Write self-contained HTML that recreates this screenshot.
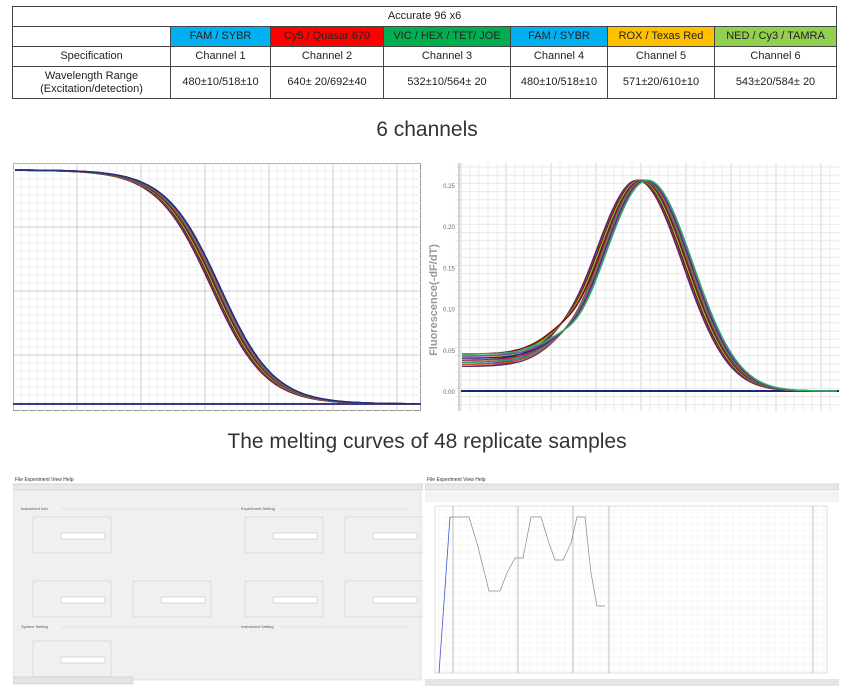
<!DOCTYPE html>
<html><head><meta charset="utf-8"><style>
body{margin:0;background:#fff;width:854px;height:693px;overflow:hidden;font-family:"Liberation Sans",sans-serif;position:relative}
table{position:absolute;left:12px;top:6px;border-collapse:collapse;font-size:11px;color:#222}
td{border:1px solid #444;text-align:center;padding:0;line-height:13px}
.cap{position:absolute;width:854px;text-align:center;font-size:21px;color:#333}
svg{position:absolute}
</style></head><body>
<table>
<colgroup><col style="width:158px"><col style="width:100px"><col style="width:113px"><col style="width:127px"><col style="width:97px"><col style="width:107px"><col style="width:122px"></colgroup>
<tr style="height:20px"><td colspan="7">Accurate 96 x6</td></tr>
<tr style="height:20px"><td></td><td style="background:#00b0f0">FAM / SYBR</td><td style="background:#ff0000">Cy5 / Quasar 670</td><td style="background:#00b050">VIC / HEX / TET/ JOE</td><td style="background:#00b0f0">FAM / SYBR</td><td style="background:#ffc000">ROX / Texas Red</td><td style="background:#92d050">NED / Cy3 / TAMRA</td></tr>
<tr style="height:20px"><td>Specification</td><td>Channel 1</td><td>Channel 2</td><td>Channel 3</td><td>Channel 4</td><td>Channel 5</td><td>Channel 6</td></tr>
<tr style="height:32px"><td>Wavelength Range<br>(Excitation/detection)</td><td>480±10/518±10</td><td>640± 20/692±40</td><td>532±10/564± 20</td><td>480±10/518±10</td><td>571±20/610±10</td><td>543±20/584± 20</td></tr>
</table>
<div class="cap" style="top:118px">6 channels</div>
<div class="cap" style="top:430px">The melting curves of 48 replicate samples</div>

<svg id="c1" style="left:13px;top:163px" width="408" height="248"></svg>
<svg id="c2" style="left:425px;top:163px" width="414" height="248"></svg>
<svg id="s1" style="left:13px;top:473px" width="410" height="213"></svg>
<svg id="s2" style="left:425px;top:473px" width="414" height="213"></svg>
<script>
const NS='http://www.w3.org/2000/svg';
function add(svg,tag,attrs,txt){const e=document.createElementNS(NS,tag);for(const k in attrs)e.setAttribute(k,attrs[k]);if(txt!==undefined)e.textContent=txt;svg.appendChild(e);return e;}
const cols=['#7a1f6e','#3b2a8a','#c0392b','#1a1a1a','#e6c700','#2e8b57','#8b0000','#5a2d82','#d35400','#16a085','#b03060','#203080','#8e44ad','#27ae60'];
// chart 1
let c1=document.getElementById('c1');
add(c1,'rect',{x:0.5,y:0.5,width:407,height:247,fill:'#fff',stroke:'#999'});
for(let x=0;x<408;x+=8)add(c1,'line',{x1:x,y1:0,x2:x,y2:248,stroke:x%64==0?'#ccc':'#eee','stroke-width':1});
for(let y=0;y<248;y+=8)add(c1,'line',{x1:0,y1:y,x2:408,y2:y,stroke:y%64==0?'#ccc':'#eee','stroke-width':1});
add(c1,'line',{x1:0,y1:241,x2:408,y2:241,stroke:'#333a90','stroke-width':2});
for(let i=0;i<12;i++){let off=(i-6)*0.8,d='';for(let x=2;x<=405;x+=2){let t=(x-203-off)/27;let y=7+234/(1+Math.exp(-t));d+=(d?'L':'M')+x+' '+Math.min(241,y).toFixed(1);}add(c1,'path',{d:d,fill:'none',stroke:cols[i],'stroke-width':1.6});}
// chart 2
let c2=document.getElementById('c2');
add(c2,'rect',{x:0,y:0,width:414,height:248,fill:'#fff'});
for(let x=36;x<414;x+=9)add(c2,'line',{x1:x,y1:0,x2:x,y2:248,stroke:(x-36)%45==0?'#d4d4d4':'#eee'});
for(let y=4;y<248;y+=8.2)add(c2,'line',{x1:30,y1:y,x2:414,y2:y,stroke:'#e8e8e8'});
add(c2,'line',{x1:34,y1:0,x2:34,y2:248,stroke:'#aaa'});
const lab=['0.25','0.20','0.15','0.10','0.05','0.00'];
lab.forEach((l,i)=>{add(c2,'text',{x:24,y:25+i*41.2,'font-size':6,fill:'#666','text-anchor':'middle'},l)});
add(c2,'text',{x:0,y:0,transform:'translate(12,137) rotate(-90)','font-size':11,'font-weight':'bold',fill:'#999','text-anchor':'middle'},'Fluorescence(-dF/dT)');
add(c2,'line',{x1:36,y1:228,x2:414,y2:228,stroke:'#1a237e','stroke-width':2});
for(let i=0;i<14;i++){let off=(i-7)*0.8,b=0.03+0.0025*(i%7),d='';for(let x=37;x<=413;x+=3){let g=0.257*Math.exp(-Math.pow(x-218-off,2)/(2*45*45));let base=b/(1+Math.exp((x-145)/10));let v=g+base;let y=228-v*820;d+=(d?'L':'M')+x+' '+y.toFixed(1);}add(c2,'path',{d:d,fill:'none',stroke:cols[i],'stroke-width':1.4});}
// screenshot 1
let s1=document.getElementById('s1');
add(s1,'rect',{x:0,y:0,width:410,height:213,fill:'#fff'});
add(s1,'text',{x:2,y:8,'font-size':5,fill:'#333'},'File Experiment View Help');
add(s1,'rect',{x:0,y:11,width:410,height:6,fill:'#e8e8e8',stroke:'#bbb','stroke-width':0.5});
add(s1,'rect',{x:0,y:17,width:408,height:190,fill:'#f0f0f0',stroke:'#ccc','stroke-width':0.5});
[[8,37,'Instrument Info',225],[8,155,'System Setting',225],[228,37,'Experiment Setting',395],[228,155,'Instrument Setting',395]].forEach(a=>{add(s1,'text',{x:a[0],y:a[1],'font-size':4,fill:'#555'},a[2]);add(s1,'line',{x1:a[0]+40,y1:a[1]-1,x2:a[3],y2:a[1]-1,stroke:'#ccc','stroke-width':0.5});});
[[20,44],[232,44],[332,44],[20,108],[120,108],[232,108],[332,108],[20,168]].forEach(p=>{add(s1,'rect',{x:p[0],y:p[1],width:78,height:36,fill:'none',stroke:'#ccc','stroke-width':0.6});add(s1,'rect',{x:p[0]+28,y:p[1]+16,width:44,height:6,fill:'#fff',stroke:'#aaa','stroke-width':0.4});});
add(s1,'rect',{x:0,y:204,width:120,height:7,fill:'#e4e4e4',stroke:'#bbb','stroke-width':0.4});
// screenshot 2
let s2=document.getElementById('s2');
add(s2,'rect',{x:0,y:0,width:414,height:213,fill:'#fff'});
add(s2,'text',{x:2,y:8,'font-size':5,fill:'#333'},'File Experiment View Help');
add(s2,'rect',{x:0,y:11,width:414,height:6,fill:'#e8e8e8',stroke:'#bbb','stroke-width':0.5});
add(s2,'rect',{x:0,y:17,width:414,height:12,fill:'#f4f4f4'});
add(s2,'rect',{x:10,y:33,width:392,height:167,fill:'#fff',stroke:'#bbb','stroke-width':0.5});
for(let x=14;x<400;x+=7)add(s2,'line',{x1:x,y1:33,x2:x,y2:200,stroke:'#eee','stroke-width':0.5});
for(let y=37;y<200;y+=7)add(s2,'line',{x1:14,y1:y,x2:400,y2:y,stroke:'#eee','stroke-width':0.5});
[28,93,148,184,388].forEach(x=>add(s2,'line',{x1:x,y1:33,x2:x,y2:200,stroke:'#999','stroke-width':0.6}));
add(s2,'polyline',{points:'14,200 25,44',fill:'none',stroke:'#4455cc','stroke-width':0.8});
add(s2,'polyline',{points:'25,44 44,44 52,70 64,118 75,118 82,100 90,85 98,85 106,44 116,44 124,70 130,87 138,87 146,70 152,44 160,44 166,100 172,133 180,133',fill:'none',stroke:'#888','stroke-width':0.7});
add(s2,'rect',{x:0,y:206,width:414,height:7,fill:'#e4e4e4'});
</script>
</body></html>
